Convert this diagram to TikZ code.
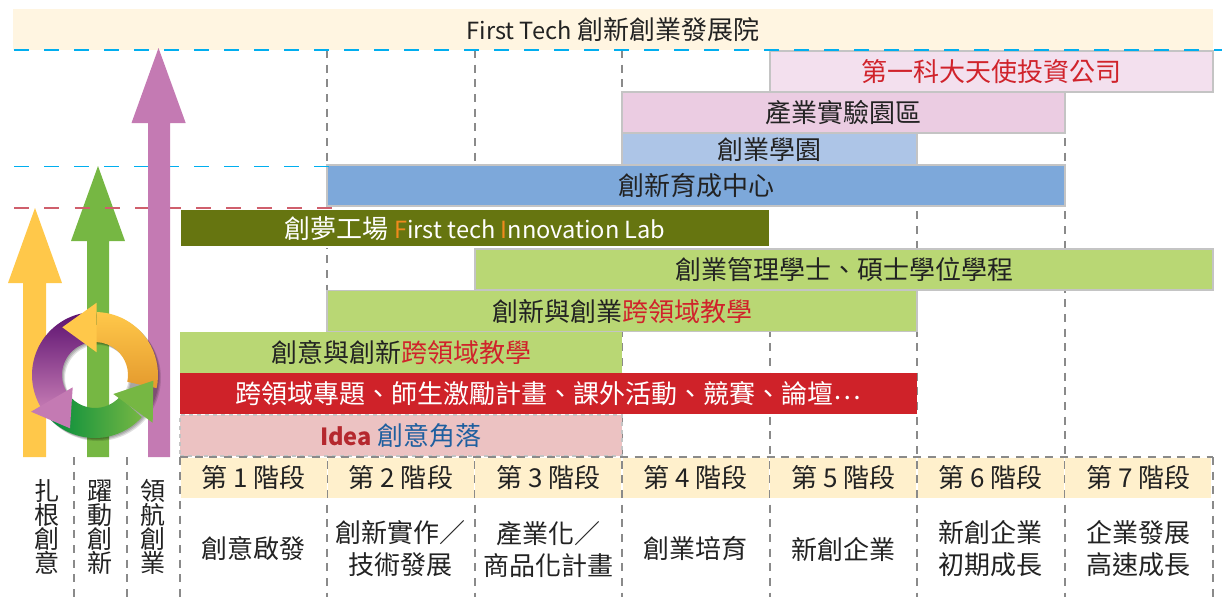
\documentclass[tikz,border=0pt]{standalone}
\usepackage{fontspec}
\setmainfont{Noto Sans CJK TC}
\usetikzlibrary{positioning}
\definecolor{headbg}{HTML}{FFF5E1}
\definecolor{stagebg}{HTML}{FFF0CC}
\definecolor{barline}{HTML}{C4C4C4}
\definecolor{griddash}{HTML}{8A8A8A}
\definecolor{skydash}{HTML}{00AEEF}
\definecolor{rosedash}{HTML}{CF5F6C}
\definecolor{angelbg}{HTML}{F3E0EE}
\definecolor{parkbg}{HTML}{EBCCE2}
\definecolor{campusbg}{HTML}{ADC5E7}
\definecolor{incubbg}{HTML}{7DA8DA}
\definecolor{olivebg}{HTML}{667510}
\definecolor{limebg}{HTML}{B9D774}
\definecolor{redbg}{HTML}{CF2229}
\definecolor{ideabg}{HTML}{ECC2C2}
\definecolor{redtext}{HTML}{D0232B}
\definecolor{ideared}{HTML}{B5282E}
\definecolor{ideablue}{HTML}{1F5F9F}
\definecolor{orangetext}{HTML}{F08A1D}
\definecolor{inktext}{HTML}{222222}
\definecolor{sunarrow}{HTML}{FFC84A}
\definecolor{sundark}{HTML}{E49A2E}
\definecolor{leafarrow}{HTML}{76B743}
\definecolor{leafdark}{HTML}{008C3C}
\definecolor{plumarrow}{HTML}{C47AB3}
\definecolor{plumdark}{HTML}{5C1170}
\definecolor{plummid}{HTML}{8F4F98}
\newcommand{\latinsize}{\fontsize{17.7}{24}\selectfont}
\tikzset{
	barbox/.style={minimum width=#1*0.75pt, minimum height=30.75pt, inner sep=0pt, text height=16pt, text depth=0.5pt, text=inktext, font=\fontsize{19.5}{24}\selectfont},
	stagehead/.style={fill=stagebg, minimum width=146*0.75pt, minimum height=30pt, inner sep=0pt, text=inktext, font=\fontsize{19.5}{24}\selectfont},
	stagetext/.style={align=center, inner sep=0pt, text=inktext, font=\fontsize{19.5}{24}\selectfont},
	sidelabel/.style={align=center, inner sep=0pt, text=inktext, font=\fontsize{18.8}{18}\selectfont},
	griddashed/.style={draw=griddash, line width=1pt, dash pattern=on 6pt off 5pt},
	skyline/.style={draw=skydash, line width=1.1pt, dash pattern=on 11.25pt off 11.25pt},
	roseline/.style={draw=rosedash, line width=1.1pt, dash pattern=on 11.25pt off 11.5pt}
}
\begin{document}
\begin{tikzpicture}[x=0.75pt,y=-0.75pt,node distance=110.6pt,on grid]
	\useasboundingbox (0,0) rectangle (1222,597);

	\node[barbox=1200, fill=headbg] (firsttech) at (613,29.5) {{\latinsize First Tech} 創新創業發展院};

	\foreach \px/\name in {327/a,475/b,622/c,770/d,917/e,1065/f}{
		\coordinate (\name top) at (\px,50);
		\coordinate (\name end) at (\px,597);
		\draw[griddashed] (\name top) -- (\name end);
	}
	\foreach \px/\name in {74/g,127/h,180/i,1213/j}{
		\coordinate (\name top) at (\px,457);
		\coordinate (\name end) at (\px,597);
		\draw[griddashed] (\name top) -- (\name end);
	}

	\node[barbox=443, fill=angelbg, draw=barline, line width=1pt, text=redtext] (angel) at (991.5,71.5) {第一科大天使投資公司};
	\node[barbox=443, fill=parkbg, draw=barline, line width=1pt] (park) at (843.5,112.5) {產業實驗園區};
	\node[barbox=295, fill=campusbg, draw=barline, line width=1pt, minimum height=24pt] (campus) at (769.5,149) {創業學園};
	\node[barbox=738, fill=incubbg, draw=barline, line width=1pt] (incubator) at (696,185.5) {創新育成中心};
	\node[barbox=590, fill=olivebg, draw=white, line width=1pt, minimum height=28.5pt, text=white] (makerlab) at (475,228) {創夢工場 {\latinsize\textcolor{orangetext}{F}irst tech \textcolor{orangetext}{I}nnovation Lab}};
	\node[barbox=738, fill=limebg, draw=barline, line width=1pt] (degree) at (844,269.5) {創業管理學士、碩士學位學程};
	\node[barbox=590, fill=limebg, draw=barline, line width=1pt] (crosstwo) at (622,311) {創新與創業\textcolor{redtext}{跨領域教學}};
	\node[barbox=442, fill=limebg] (crossone) at (401,352.5) {創意與創新\textcolor{redtext}{跨領域教學}};
	\node[barbox=737, fill=redbg, text=white] (projects) at (548.5,393.5) {跨領域專題、師生激勵計畫、課外活動、競賽、論壇\raisebox{3pt}{⋯}};
	\node[barbox=442, fill=ideabg, draw=barline, line width=1pt, dashed] (ideacorner) at (401,435.5) {{\latinsize\textcolor{ideared}{\textbf{Idea}}} \textcolor{ideablue}{創意角落}};

	\node[stagehead] (s1) at (253.5,478) {第 1 階段};
	\node[stagehead] (s2) [right=of s1] {第 2 階段};
	\node[stagehead] (s3) [right=of s2] {第 3 階段};
	\node[stagehead] (s4) [right=of s3] {第 4 階段};
	\node[stagehead] (s5) [right=of s4] {第 5 階段};
	\node[stagehead] (s6) [right=of s5] {第 6 階段};
	\node[stagehead] (s7) [right=of s6] {第 7 階段};

	\node[stagetext] (t1) [below=53.25pt of s1] {創意啟發};
	\node[stagetext] (t2) [below=53.25pt of s2] {創新實作／\\技術發展};
	\node[stagetext] (t3) [below=53.25pt of s3] {產業化／\\商品化計畫};
	\node[stagetext] (t4) [below=53.25pt of s4] {創業培育};
	\node[stagetext] (t5) [below=53.25pt of s5] {新創企業};
	\node[stagetext] (t6) [below=53.25pt of s6] {新創企業\\初期成長};
	\node[stagetext] (t7) [below=53.25pt of s7] {企業發展\\高速成長};

	\coordinate (stageleft) at (180,457);
	\coordinate (stageright) at (1213,457);
	\draw[griddashed] (stageleft) -- (stageright);

	\coordinate (skyone) at (14,50);
	\coordinate (skyoneend) at (1222,50);
	\coordinate (skytwo) at (14,166.5);
	\coordinate (skytwoend) at (338,166.5);
	\coordinate (rose) at (14,208);
	\coordinate (roseend) at (338,208);
	\draw[skyline] (skyone) -- (skyoneend);

	\fill[sunarrow] (35,208) -- (62,283) -- (46,283) -- (46,457) -- (23,457) -- (23,283) -- (8,283) -- cycle;
	\fill[leafarrow] (98,166) -- (125,241) -- (109,241) -- (109,457) -- (87,457) -- (87,241) -- (71,241) -- cycle;
	\draw[roseline] (rose) -- (roseend);
	\draw[skyline] (skytwo) -- (skytwoend);
	\fill[plumarrow] (158.5,48) -- (185.7,123) -- (170,123) -- (170,457) -- (148,457) -- (148,123) -- (131.5,123) -- cycle;

	\node[sidelabel] (root) at (47.5,527) {扎\\根\\創\\意};
	\node[sidelabel] (leap) at (100,527) {躍\\動\\創\\新};
	\node[sidelabel] (lead) at (153,527) {領\\航\\創\\業};

	\begin{scope}[shift={(95,375)},x=0.75pt,y=0.75pt]
		\foreach \off/\op in {1/.14,2/.14,3/.12}{
			\fill[black,opacity=\op,even odd rule] (\off,-\off) circle (63) (\off,-\off) circle (33);
		}
		\shade[top color=sunarrow, middle color=sunarrow, bottom color=sundark] (88:63) arc[start angle=88, end angle=-12, radius=63] -- (-12:33) arc[start angle=-12, end angle=88, radius=33] -- cycle;
		\shade[top color=plumdark, middle color=plummid, bottom color=plumarrow] (100:63) arc[start angle=100, end angle=212, radius=63] -- (212:33) arc[start angle=212, end angle=100, radius=33] -- cycle;
		\shade[left color=leafdark, right color=leafarrow] (222:63) arc[start angle=222, end angle=318, radius=63] -- (318:33) arc[start angle=318, end angle=222, radius=33] -- cycle;
		\fill[sunarrow] (1.7,72.3) -- (1.7,22.7) -- (-32.7,47.7) -- cycle;
		\fill[plumarrow] (-25,-53.3) -- (-22.3,-12.3) -- (-64,-36.7) -- cycle;
		\fill[leafarrow] (58.3,-5.7) -- (57.7,-47.7) -- (18.3,-19) -- cycle;
	\end{scope}
\end{tikzpicture}
\end{document}
